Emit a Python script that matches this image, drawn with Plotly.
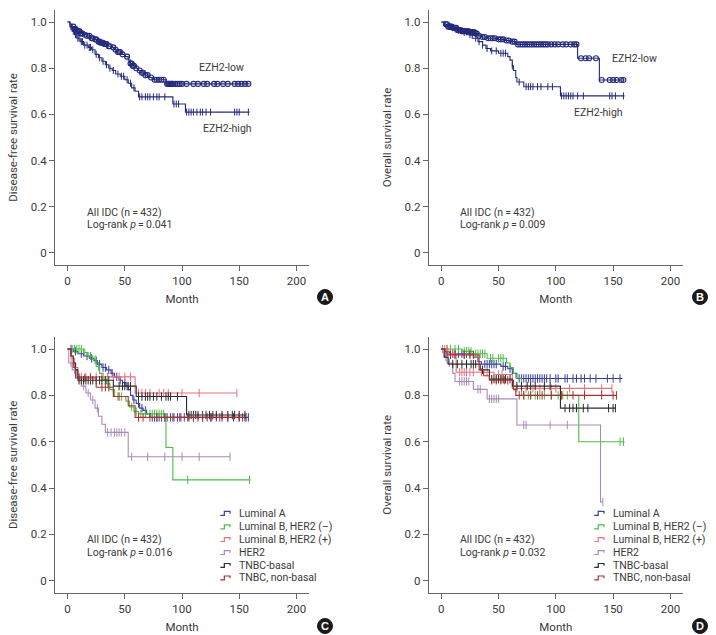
import plotly.graph_objects as go

# ---------------- data ----------------
# Panel A: disease-free survival by EZH2
A_LOW_T = [0, 2, 4, 6, 8, 11, 14, 17, 20, 23, 26, 29, 32, 35, 38, 41, 44, 47, 50, 53, 55, 57, 60, 62, 65, 68, 71, 74, 86]
A_LOW_S = [1.0, 0.99, 0.98, 0.97, 0.96, 0.95, 0.945, 0.94, 0.93, 0.925, 0.915, 0.91, 0.905, 0.895, 0.89, 0.88, 0.87, 0.86, 0.85, 0.835, 0.82, 0.81, 0.80, 0.79, 0.78, 0.77, 0.76, 0.75, 0.732]
A_LOW_END = 159
A_LOW_CENS = [5, 6, 7, 8, 9, 10, 10.5, 11, 12, 13, 15, 17, 19, 21, 22, 24, 25, 27, 28, 29, 30, 31, 32, 33, 34, 36, 37, 40, 42, 44, 45, 46, 48, 52, 55, 56, 57, 58, 60, 63, 65, 66, 68, 70, 73, 76, 78, 80, 82, 84, 87, 88, 89, 90, 91, 92, 94, 96, 98, 100, 104, 110, 114, 119, 122, 128, 131, 136, 140, 146, 149, 152, 155, 158]
A_HIGH_T = [0, 2, 4, 6, 8, 11, 14, 18, 21, 24, 27, 30, 33, 36, 39, 42, 46, 50, 53, 56, 59, 62, 92, 103]
A_HIGH_S = [1.0, 0.98, 0.96, 0.945, 0.93, 0.915, 0.90, 0.89, 0.88, 0.86, 0.845, 0.83, 0.815, 0.80, 0.79, 0.775, 0.765, 0.75, 0.735, 0.715, 0.70, 0.676, 0.645, 0.61]
A_HIGH_END = 159
A_HIGH_CENS = [3, 5, 7, 9, 10, 12, 13, 15, 17, 19, 20, 22, 25, 28, 31, 34, 37, 40, 44, 47, 49, 52, 55, 58, 63, 65, 68, 70, 72, 75, 78, 80, 85, 93, 95, 97, 104, 106, 108, 110, 113, 116, 118, 121, 125, 146, 148, 150, 158]

# Panel B: overall survival by EZH2
B_LOW_T = [0, 3, 6, 10, 14, 18, 25, 30, 32, 35, 40, 48, 55, 60, 65, 119, 138]
B_LOW_S = [1.0, 0.99, 0.98, 0.975, 0.965, 0.96, 0.955, 0.95, 0.94, 0.935, 0.93, 0.925, 0.92, 0.915, 0.903, 0.843, 0.749]
B_LOW_END = 160
B_LOW_CENS = [4, 5, 6, 7, 8, 9, 10, 11, 12, 13, 14, 15, 16, 17, 18, 19, 20, 21, 22, 23, 24, 25, 26, 27, 28, 29, 30, 31, 33, 36, 38, 41, 43, 45, 47, 50, 52, 54, 57, 59, 62, 64, 67, 69, 71, 73, 75, 77, 79, 81, 83, 85, 87, 89, 91, 93, 96, 99, 102, 106, 109, 113, 116, 118, 122, 126, 129, 135, 140, 147, 150, 153, 157, 159]
B_HIGH_T = [0, 3, 7, 12, 17, 22, 27, 32, 36, 39, 43, 50, 58, 60, 62, 63, 65, 66, 72, 104]
B_HIGH_S = [1.0, 0.985, 0.975, 0.965, 0.955, 0.945, 0.93, 0.915, 0.90, 0.885, 0.875, 0.865, 0.85, 0.835, 0.81, 0.79, 0.76, 0.74, 0.72, 0.68]
B_HIGH_END = 160
B_HIGH_CENS = [10, 15, 20, 25, 30, 33, 36, 40, 44, 48, 52, 54, 56, 62, 68, 74, 76, 78, 80, 84, 87, 93, 97, 105, 107, 109, 111, 113, 115, 119, 124, 147, 149, 152, 159]

# Panel C: disease-free survival by subtype
C_LUMA_T = [0, 5, 9, 14, 19, 23, 26, 30, 34, 38, 41, 45, 48, 51, 53, 55, 57, 60, 63, 66, 69, 72]
C_LUMA_S = [1.0, 0.99, 0.98, 0.97, 0.96, 0.95, 0.935, 0.92, 0.91, 0.895, 0.88, 0.865, 0.855, 0.84, 0.825, 0.80, 0.78, 0.765, 0.745, 0.735, 0.72, 0.705]
C_LUMA_END = 158
C_LUMA_CENS = [3, 7, 12, 17, 21, 25, 28, 31, 33, 36, 39, 43, 46, 50, 52, 58, 62, 65, 68, 74, 76, 78, 80, 82, 85, 87, 90, 93, 96, 99, 102, 106, 110, 114, 118, 122, 126, 130, 135, 140, 145, 150, 153, 156, 158]
C_LUMBN_T = [0, 14, 18, 22, 25, 28, 31, 34, 37, 41, 51, 54, 58, 62, 86, 92]
C_LUMBN_S = [1.0, 0.985, 0.97, 0.955, 0.925, 0.895, 0.87, 0.85, 0.825, 0.795, 0.775, 0.75, 0.73, 0.72, 0.575, 0.435]
C_LUMBN_END = 160
C_LUMBN_CENS = [4, 6, 8, 10, 12, 15, 20, 24, 27, 35, 40, 44, 47, 56, 60, 64, 68, 72, 74, 76, 78, 80, 82, 84, 105, 159]
C_LUMBP_T = [0, 3, 6, 9, 59]
C_LUMBP_S = [1.0, 0.96, 0.92, 0.88, 0.81]
C_LUMBP_END = 148
C_LUMBP_CENS = [12, 16, 20, 25, 30, 35, 40, 45, 50, 55, 62, 65, 68, 72, 80, 84, 88, 100, 115, 148]
C_HER2_T = [0, 1, 4, 8, 12, 16, 20, 24, 27, 30, 33, 53]
C_HER2_S = [1.0, 0.94, 0.91, 0.88, 0.84, 0.81, 0.78, 0.745, 0.71, 0.675, 0.64, 0.535]
C_HER2_END = 142
C_HER2_CENS = [3, 6, 10, 14, 18, 22, 26, 35, 38, 41, 43, 45, 47, 50, 56, 70, 85, 100, 115, 142]
C_TNB_T = [0, 3, 5, 7, 9, 40, 60, 104]
C_TNB_S = [1.0, 0.97, 0.94, 0.91, 0.865, 0.84, 0.795, 0.715]
C_TNB_END = 156
C_TNB_CENS = [10, 12, 14, 16, 18, 20, 22, 25, 28, 30, 33, 36, 45, 48, 50, 53, 55, 62, 65, 68, 70, 72, 75, 78, 82, 86, 88, 90, 96, 106, 108, 110, 112, 114, 118, 121, 124, 127, 130, 135, 140, 144, 146, 150, 155]
C_TNNB_T = [0, 3, 5, 7, 25, 40, 53, 59]
C_TNNB_S = [1.0, 0.97, 0.92, 0.875, 0.835, 0.795, 0.755, 0.705]
C_TNNB_END = 155
C_TNNB_CENS = [10, 15, 20, 30, 33, 36, 45, 62, 66, 72, 78, 85, 92, 98, 105, 110, 118, 125, 133, 140, 150, 155]

# Panel D: overall survival by subtype
D_LUMA_T = [0, 3, 7, 28, 32, 35, 52, 58, 62, 66]
D_LUMA_S = [1.0, 0.988, 0.98, 0.965, 0.945, 0.935, 0.925, 0.915, 0.895, 0.873]
D_LUMA_END = 158
D_LUMA_CENS = [5, 8, 10, 12, 15, 18, 20, 22, 25, 38, 40, 42, 44, 46, 48, 54, 56, 60, 68, 70, 72, 74, 76, 78, 80, 82, 84, 86, 88, 90, 92, 95, 100, 102, 108, 110, 115, 118, 122, 125, 130, 135, 145, 150, 156]
D_LUMBN_T = [0, 18, 28, 40, 57, 60, 63, 65, 70, 120]
D_LUMBN_S = [1.0, 0.99, 0.98, 0.96, 0.94, 0.92, 0.895, 0.875, 0.80, 0.60]
D_LUMBN_END = 160
D_LUMBN_CENS = [5, 8, 12, 15, 20, 22, 24, 26, 30, 32, 34, 36, 38, 43, 45, 50, 52, 54, 72, 76, 78, 82, 86, 90, 96, 102, 106, 110, 156, 159]
D_LUMBP_T = [0, 6, 13, 46, 62]
D_LUMBP_S = [1.0, 0.98, 0.90, 0.89, 0.83]
D_LUMBP_END = 149
D_LUMBP_CENS = [3, 5, 8, 10, 16, 18, 20, 22, 25, 28, 35, 40, 50, 53, 66, 70, 74, 80, 86, 90, 96, 100, 112, 125, 140, 149]
D_HER2_T = [0, 2, 5, 10, 12, 28, 40, 66, 139]
D_HER2_S = [1.0, 0.965, 0.94, 0.895, 0.86, 0.826, 0.785, 0.672, 0.34]
D_HER2_END = 141
D_HER2_CENS = [1, 4, 7, 16, 18, 20, 22, 24, 32, 34, 42, 44, 46, 48, 50, 72, 74, 95, 110, 141]
D_TNB_T = [0, 3, 6, 34, 42, 62, 104]
D_TNB_S = [1.0, 0.965, 0.935, 0.91, 0.87, 0.84, 0.745]
D_TNB_END = 152
D_TNB_CENS = [10, 14, 18, 22, 26, 28, 30, 36, 44, 46, 48, 50, 52, 54, 56, 60, 66, 70, 75, 78, 82, 90, 95, 108, 112, 115, 118, 124, 128, 146, 150, 152]
D_TNNB_T = [0, 3, 5, 33, 37, 42, 63, 65]
D_TNNB_S = [1.0, 0.988, 0.975, 0.91, 0.885, 0.865, 0.825, 0.80]
D_TNNB_END = 153
D_TNNB_CENS = [8, 12, 20, 25, 28, 44, 48, 52, 55, 58, 68, 72, 78, 84, 88, 96, 105, 115, 125, 140, 150, 153]

SUBTYPES = ["Luminal A", "Luminal B, HER2 (\u2013)", "Luminal B, HER2 (+)", "HER2", "TNBC-basal", "TNBC, non-basal"]
EZH2_GROUPS = ["EZH2-low", "EZH2-high"]
X_TICKS = [0, 50, 100, 150, 200]
Y_TICKS = [0, 0.2, 0.4, 0.6, 0.8, 1.0]
Y_TICKTEXT = ["0", "0.2", "0.4", "0.6", "0.8", "1.0"]
PANEL_LETTERS = ["A", "B", "C", "D"]
Y_TITLES = ["Disease-free survival rate", "Overall survival rate", "Disease-free survival rate", "Overall survival rate"]
P_VALUES = ["0.041", "0.009", "0.016", "0.032"]

# ---------------- styling ----------------
FONT = "Roboto, Liberation Sans, Arial, sans-serif"
TXT = "#3a3a3a"
NAVY = "#242a7c"
SUB_COLORS = ["#3b3f9e", "#4dbd48", "#e5737b", "#a88bb8", "#2b2b2b", "#a8302f"]
W, H = 716, 635
ANN_SIZE = 10.5
TICK_SIZE = 11.5


def surv_at(times, surv, t):
    v = surv[0]
    for ti, si in zip(times, surv):
        if ti <= t:
            v = si
    return v


fig = go.Figure()


def add_curve(ax, times, surv, end, cens, color, symbol, msize):
    xs = list(times) + [end]
    ys = list(surv) + [surv[-1]]
    fig.add_trace(go.Scatter(x=xs, y=ys, mode="lines", line=dict(color=color, width=1.1, shape="hv"),
                             xaxis="x" + ax, yaxis="y" + ax, showlegend=False, hoverinfo="skip"))
    cy = [surv_at(times, surv, c) for c in cens]
    if symbol == "circle-open":
        mk = dict(symbol="circle-open", size=msize, color=color, line=dict(width=1.1, color=color))
    else:
        mk = dict(symbol="line-ns", size=msize, color=color, line=dict(width=1, color=color))
    fig.add_trace(go.Scatter(x=cens, y=cy, mode="markers", marker=mk,
                             xaxis="x" + ax, yaxis="y" + ax, showlegend=False, hoverinfo="skip"))


# Panel A / B
add_curve("", A_LOW_T, A_LOW_S, A_LOW_END, A_LOW_CENS, NAVY, "circle-open", 5)
add_curve("", A_HIGH_T, A_HIGH_S, A_HIGH_END, A_HIGH_CENS, NAVY, "line-ns", 5)
add_curve("2", B_LOW_T, B_LOW_S, B_LOW_END, B_LOW_CENS, NAVY, "circle-open", 5)
add_curve("2", B_HIGH_T, B_HIGH_S, B_HIGH_END, B_HIGH_CENS, NAVY, "line-ns", 5)

C_SERIES = [(C_LUMA_T, C_LUMA_S, C_LUMA_END, C_LUMA_CENS), (C_LUMBN_T, C_LUMBN_S, C_LUMBN_END, C_LUMBN_CENS),
            (C_LUMBP_T, C_LUMBP_S, C_LUMBP_END, C_LUMBP_CENS), (C_HER2_T, C_HER2_S, C_HER2_END, C_HER2_CENS),
            (C_TNB_T, C_TNB_S, C_TNB_END, C_TNB_CENS), (C_TNNB_T, C_TNNB_S, C_TNNB_END, C_TNNB_CENS)]
D_SERIES = [(D_LUMA_T, D_LUMA_S, D_LUMA_END, D_LUMA_CENS), (D_LUMBN_T, D_LUMBN_S, D_LUMBN_END, D_LUMBN_CENS),
            (D_LUMBP_T, D_LUMBP_S, D_LUMBP_END, D_LUMBP_CENS), (D_HER2_T, D_HER2_S, D_HER2_END, D_HER2_CENS),
            (D_TNB_T, D_TNB_S, D_TNB_END, D_TNB_CENS), (D_TNNB_T, D_TNNB_S, D_TNNB_END, D_TNNB_CENS)]
for (t, s, e, c), col in zip(C_SERIES, SUB_COLORS):
    add_curve("3", t, s, e, c, col, "line-ns", 6)
for (t, s, e, c), col in zip(D_SERIES, SUB_COLORS):
    add_curve("4", t, s, e, c, col, "line-ns", 6)

# ---------------- layout ----------------
X_DOM_L = [55 / W, 309 / W]
X_DOM_R = [428.7 / W, 683 / W]
Y_DOM_T = [1 - 265 / H, 1 - 10 / H]
Y_DOM_B = [1 - 592.7 / H, 1 - 337 / H]


def xax(domain, anchor):
    return dict(domain=domain, anchor=anchor, range=[-11, 211], tickvals=X_TICKS,
                ticks="outside", ticklen=5, tickcolor="#666", showline=True, linecolor="#666", linewidth=1,
                showgrid=False, zeroline=False, tickfont=dict(family=FONT, size=TICK_SIZE, color=TXT),
                title=dict(text="Month", font=dict(family=FONT, size=TICK_SIZE, color=TXT), standoff=8))


def yax(domain, anchor, title):
    return dict(domain=domain, anchor=anchor, range=[-0.052, 1.052], tickvals=Y_TICKS, ticktext=Y_TICKTEXT,
                ticks="outside", ticklen=5, tickcolor="#666", showline=True, linecolor="#666", linewidth=1,
                showgrid=False, zeroline=False, tickfont=dict(family=FONT, size=TICK_SIZE, color=TXT),
                title=dict(text=title, font=dict(family=FONT, size=TICK_SIZE, color=TXT), standoff=10))


fig.update_layout(
    width=W, height=H, margin=dict(l=0, r=0, t=0, b=0),
    paper_bgcolor="white", plot_bgcolor="white", showlegend=False,
    font=dict(family=FONT, size=ANN_SIZE, color=TXT),
    xaxis=xax(X_DOM_L, "y"), yaxis=yax(Y_DOM_T, "x", Y_TITLES[0]),
    xaxis2=xax(X_DOM_R, "y2"), yaxis2=yax(Y_DOM_T, "x2", Y_TITLES[1]),
    xaxis3=xax(X_DOM_L, "y3"), yaxis3=yax(Y_DOM_B, "x3", Y_TITLES[2]),
    xaxis4=xax(X_DOM_R, "y4"), yaxis4=yax(Y_DOM_B, "x4", Y_TITLES[3]),
)

annotations = []
shapes = []
AX_SUFFIX = ["", "2", "3", "4"]
for i, sfx in enumerate(AX_SUFFIX):
    xr, yr = "x" + sfx, "y" + sfx
    annotations.append(dict(x=15, y=0.177, xref=xr, yref=yr, text="All IDC (n\u2009=\u2009432)",
                            showarrow=False, xanchor="left", yanchor="middle", font=dict(family=FONT, size=ANN_SIZE, color=TXT)))
    annotations.append(dict(x=15, y=0.123, xref=xr, yref=yr, text="Log-rank <i>p</i>\u2009=\u2009" + P_VALUES[i],
                            showarrow=False, xanchor="left", yanchor="middle", font=dict(family=FONT, size=ANN_SIZE, color=TXT)))

# EZH2 group labels
EZH2_LABEL_POS = {"": [(113.5, 0.802), (117, 0.538)], "2": [(147, 0.84), (114, 0.607)]}
for sfx, poss in EZH2_LABEL_POS.items():
    for name, (lx, ly) in zip(EZH2_GROUPS, poss):
        annotations.append(dict(x=lx, y=ly, xref="x" + sfx, yref="y" + sfx, text=name, showarrow=False,
                                xanchor="left", yanchor="middle", font=dict(family=FONT, size=ANN_SIZE, color=TXT)))

# Legends for C and D (step-shaped glyphs)
LEG_ROWS = [0.291, 0.233, 0.178, 0.122, 0.066, 0.012]
for sfx in ["3", "4"]:
    for name, col, ly in zip(SUBTYPES, SUB_COLORS, LEG_ROWS):
        x0, xm, x1 = 133.5, 137.0, 142.0
        y0, y1 = ly - 0.009, ly + 0.008
        shapes.append(dict(type="path", xref="x" + sfx, yref="y" + sfx,
                           path=f"M {x0},{y0} L {xm},{y0} L {xm},{y1} L {x1},{y1} L {x1},{ly - 0.002}",
                           line=dict(color=col, width=1.2)))
        annotations.append(dict(x=148, y=ly, xref="x" + sfx, yref="y" + sfx, text=name, showarrow=False,
                                xanchor="left", yanchor="middle", font=dict(family=FONT, size=ANN_SIZE, color=TXT)))

# Panel badges
BADGE_POS = [(325, 297), (700, 297), (325, 626), (700, 626)]
for letter, (bx, by) in zip(PANEL_LETTERS, BADGE_POS):
    r = 7.5
    shapes.append(dict(type="circle", xref="paper", yref="paper",
                       x0=(bx - r) / W, x1=(bx + r) / W, y0=1 - (by + r) / H, y1=1 - (by - r) / H,
                       fillcolor="#1a1a1a", line=dict(color="#1a1a1a", width=1)))
    annotations.append(dict(x=bx / W, y=1 - by / H, xref="paper", yref="paper", text="<b>" + letter + "</b>",
                            showarrow=False, xanchor="center", yanchor="middle",
                            font=dict(family="Liberation Sans, Arial, sans-serif", size=11, color="white")))

fig.update_layout(annotations=annotations, shapes=shapes)
fig.write_html("out.html")
